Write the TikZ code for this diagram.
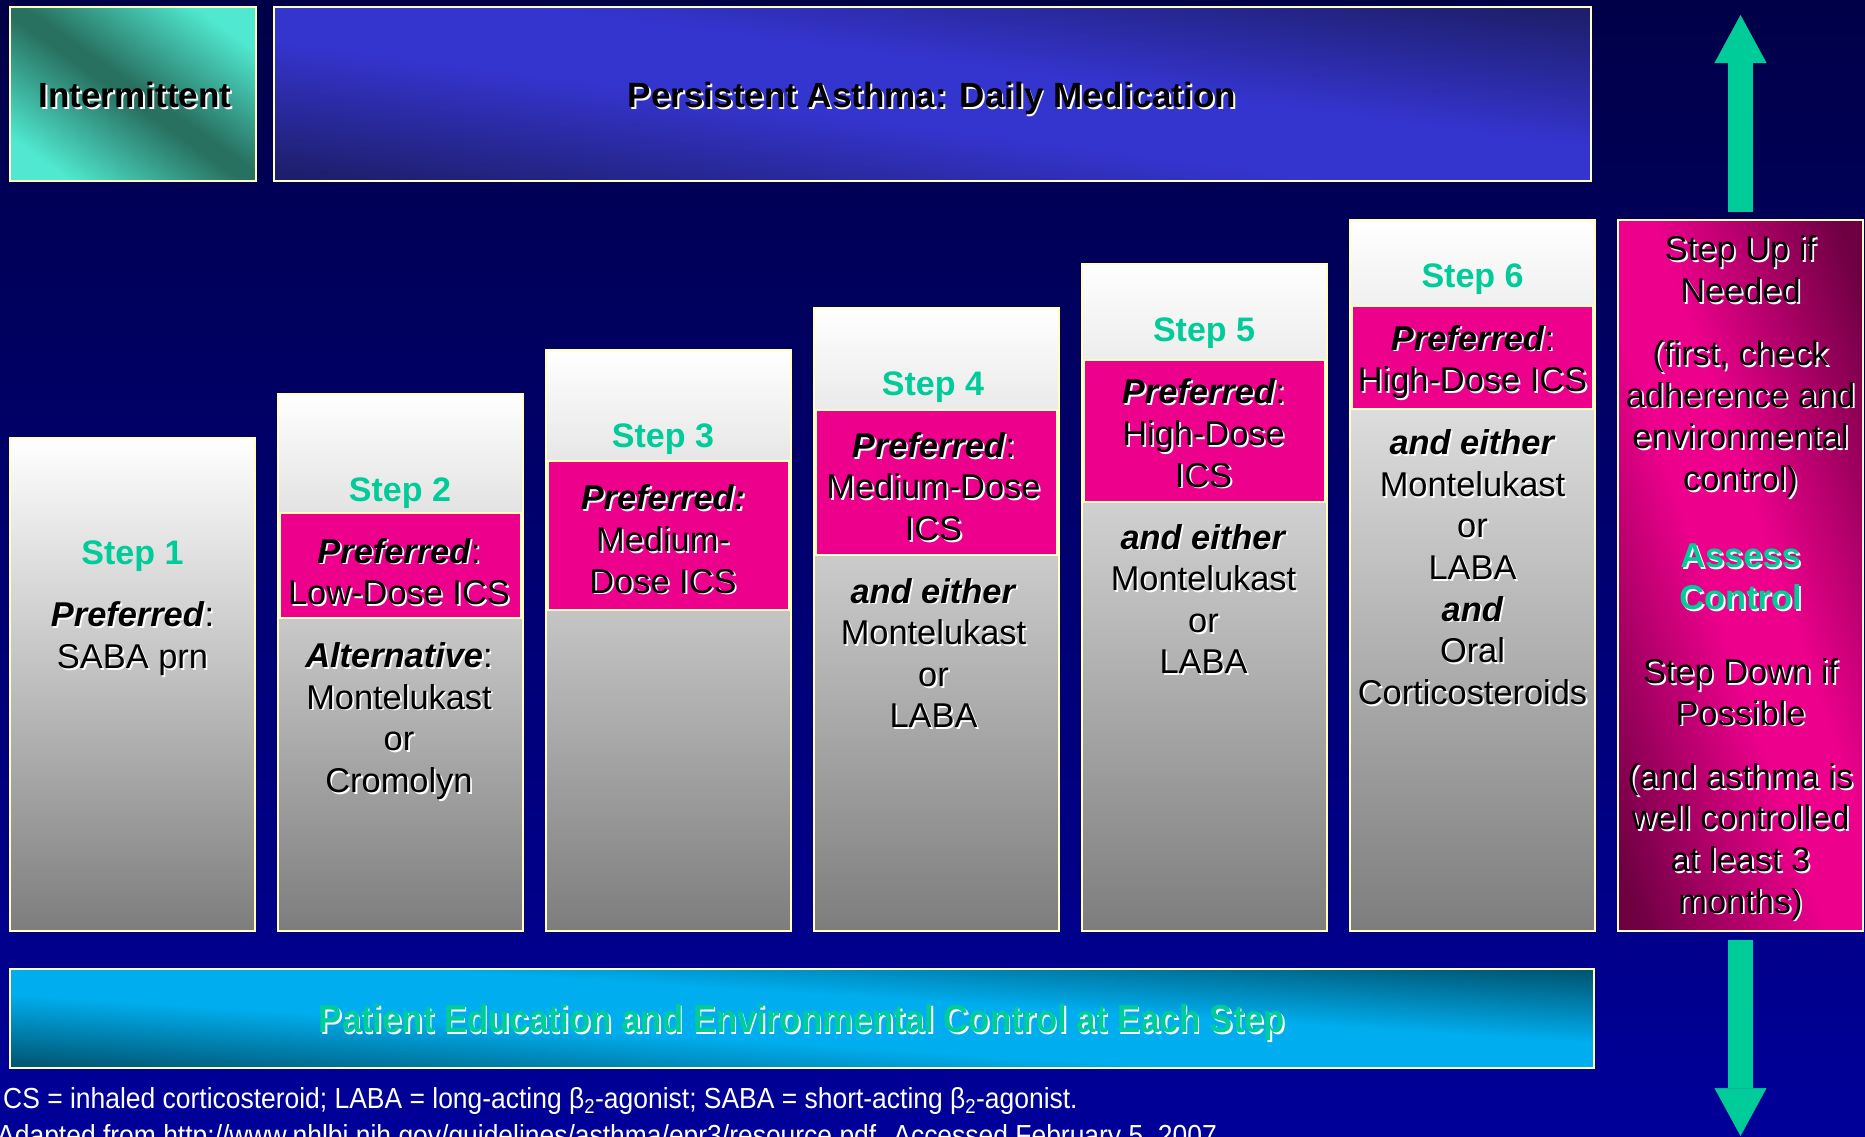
\documentclass[tikz,border=0pt]{standalone}
\usepackage{fontspec}
\setmainfont{Liberation Sans}
\usepackage{tikz}
\usetikzlibrary{arrows.meta}
\usetikzlibrary{positioning}

\definecolor{bgtop}{RGB}{0,0,72}
\definecolor{bgbot}{RGB}{0,0,153}
\definecolor{edge}{RGB}{255,255,190}
\definecolor{stepgreen}{RGB}{0,204,153}
\definecolor{pink}{RGB}{236,0,140}
\definecolor{boxgray}{RGB}{125,125,125}

% diagonal bands: centre colour along the NW-SE diagonal, corner colour at NE and SW
\pgfdeclarefunctionalshading{diagteal}{\pgfpoint{-50bp}{-50bp}}{\pgfpoint{50bp}{50bp}}{}{
  add 50 div abs 0.05 sub 0.7 div dup abs add 2 div dup 1 sub abs neg add 1 add 2 div
  dup 0.157 mul 0.157 add exch dup 0.471 mul 0.439 add exch 0.440 mul 0.376 add
}
\pgfdeclarefunctionalshading{diagblue}{\pgfpoint{-50bp}{-50bp}}{\pgfpoint{50bp}{50bp}}{}{
  add 50 div abs 0.2 sub 0.75 div dup abs add 2 div dup 1 sub abs neg add 1 add 2 div
  dup -0.086 mul 0.204 add exch dup -0.086 mul 0.204 add exch -0.384 mul 0.808 add
}
\pgfdeclarefunctionalshading{diagpink}{\pgfpoint{-50bp}{-50bp}}{\pgfpoint{50bp}{50bp}}{}{
  add 50 div abs 0.15 sub 0.75 div dup abs add 2 div dup 1 sub abs neg add 1 add 2 div
  dup -0.494 mul 0.925 add exch dup 0 mul 0 add exch -0.290 mul 0.549 add
}
\pgfdeclarefunctionalshading{diagcyan}{\pgfpoint{-50bp}{-50bp}}{\pgfpoint{50bp}{50bp}}{}{
  add 50 div abs 0.25 sub 0.7 div dup abs add 2 div dup 1 sub abs neg add 1 add 2 div
  dup 0 mul 0 add exch dup -0.337 mul 0.682 add exch -0.474 mul 0.937 add
}

\newif\ifshad
\newcommand{\grn}[1]{\ifshad#1\else\textcolor{stepgreen}{#1}\fi}
\newcommand{\shtab}[1]{\leavevmode\rlap{\shadtrue\kern1.8pt\raisebox{-1.8pt}{\color{white}\begin{tabular}{@{}c@{}}#1\end{tabular}}}\begin{tabular}{@{}c@{}}#1\end{tabular}}
\newcommand{\bi}[1]{\textbf{\textit{#1}}}

\tikzstyle{panel}=[draw=edge,line width=2.5pt,inner sep=0,outer sep=0,anchor=north west]
\tikzstyle{stepbox}=[panel,top color=white,bottom color=boxgray,minimum width=245pt]
\tikzstyle{prefband}=[panel,fill=pink,minimum width=241pt]
\tikzstyle{title}=[font=\fontsize{35}{42}\selectfont\bfseries,text=black,inner sep=0]
\tikzstyle{steplabel}=[font=\fontsize{34}{41}\selectfont\bfseries,text=stepgreen,inner sep=0,anchor=base]
\tikzstyle{body}=[font=\fontsize{34.4}{41.6}\selectfont,text=black,inner sep=0]
\tikzstyle{note}=[font=\fontsize{29}{35}\selectfont,text=white,inner sep=0,anchor=base west]
\tikzstyle{updown}=[draw=stepgreen,line width=25pt,-{Triangle[width=52pt,length=48pt,line width=0.5pt]}]

\begin{document}
\begin{tikzpicture}[x=1pt,y=-1pt]
\path[use as bounding box] (0,0) rectangle (1865,1136);
\clip (0,0) rectangle (1865,1136);
\shade[top color=bgtop,bottom color=bgbot] (0,0) rectangle (1865,1136);

\node[panel,shade,shading=diagteal,minimum width=246pt,minimum height=174pt] (interm) at (10,7) {};
\node[panel,shade,shading=diagblue,minimum width=1317pt,minimum height=174pt] (persist) at (274,7) {};
\node[title] (intermtxt) at (135,100) {\shtab{Intermittent}};
\node[title] (persisttxt) at (932,100) {\shtab{Persistent Asthma: Daily Medication}};

\node[stepbox,minimum height=493pt] (st1) at (10,438) {};
\node[stepbox,minimum height=537pt] (st2) at (278,394) {};
\node[stepbox,minimum height=581pt] (st3) at (546,350) {};
\node[stepbox,minimum height=623pt] (st4) at (814,308) {};
\node[stepbox,minimum height=667pt] (st5) at (1082,264) {};
\node[stepbox,minimum height=711pt] (st6) at (1350,220) {};

\node[prefband,minimum height=105pt] (pr2) at (280,513) {};
\node[prefband,minimum height=149pt] (pr3) at (548,461) {};
\node[prefband,minimum height=145pt] (pr4) at (816,410) {};
\node[prefband,minimum height=142pt] (pr5) at (1084,360) {};
\node[prefband,minimum height=103pt] (pr6) at (1352,306) {};

\node[steplabel] (lab1) at (132.5,564) {Step 1};
\node[steplabel] (lab2) at (400,501) {Step 2};
\node[steplabel] (lab3) at (663,447) {Step 3};
\node[steplabel] (lab4) at (933,395) {Step 4};
\node[steplabel] (lab5) at (1204,341) {Step 5};
\node[steplabel] (lab6) at (1472.5,287) {Step 6};

\node[body] (txt1) at (132.5,640) {\shtab{\bi{Preferred}:\\SABA prn}};
\node[body] (txt2) at (399,576.5) {\shtab{\bi{Preferred}:\\Low-Dose ICS}};
\node[body] (alt2) at (399,722.5) {\shtab{\bi{Alternative}:\\Montelukast\\or\\Cromolyn}};
\node[body] (txt3) at (663,544) {\shtab{\bi{Preferred:}\\Medium-\\Dose ICS}};
\node[body] (txt4) at (933.5,491.5) {\shtab{\bi{Preferred}:\\Medium-Dose\\ICS}};
\node[body] (add4) at (933.5,658) {\shtab{\bi{and either}\\Montelukast\\or\\LABA}};
\node[body] (txt5) at (1203.5,438) {\shtab{\bi{Preferred}:\\High-Dose\\ICS}};
\node[body] (add5) at (1203.5,604) {\shtab{\bi{and either}\\Montelukast\\or\\LABA}};
\node[body] (txt6) at (1472.5,363.5) {\shtab{\bi{Preferred}:\\High-Dose ICS}};
\node[body] (add6) at (1472.5,572) {\shtab{\bi{and either}\\Montelukast\\or\\LABA\\\bi{and}\\Oral\\Corticosteroids}};

\node[panel,shade,shading=diagpink,minimum width=245pt,minimum height=711pt] (ctrl) at (1618,220) {};
\node[body] (ctrltxt) at (1740.5,579.5) {\shtab{Step Up if\\Needed\\[21.5pt](first, check\\adherence and\\environmental\\control)\\[36pt]\grn{\textbf{Assess}}\\\grn{\textbf{Control}}\\[32.5pt]Step Down if\\Possible\\[21.5pt](and asthma is\\well controlled\\at least 3\\months)}};

\node[panel,shade,shading=diagcyan,minimum width=1584pt,minimum height=99pt] (edu) at (10,969) {};
\node[title,font=\fontsize{39}{46}\selectfont\bfseries] (edutxt) at (802,1024.5) {\scalebox{0.89}[1]{\shtab{\grn{Patient Education and Environmental Control at Each Step}}}};

\coordinate (uptip) at (1740.5,15);
\coordinate (downtip) at (1740.5,1136);
\draw[updown,shorten <=8pt] (ctrl.north) -- (uptip);
\draw[updown,shorten <=9pt] (ctrl.south) -- (downtip);

\node[note] (abbr) at (3,1108) {\scalebox{0.912}[1]{CS = inhaled corticosteroid; LABA = long-acting β\textsubscript{2}-agonist; SABA = short-acting β\textsubscript{2}-agonist.}};
\node[note] (src) at (-3,1145) {\scalebox{0.912}[1]{Adapted from http://www.nhlbi.nih.gov/guidelines/asthma/epr3/resource.pdf. Accessed February 5, 2007.}};

\end{tikzpicture}
\end{document}
